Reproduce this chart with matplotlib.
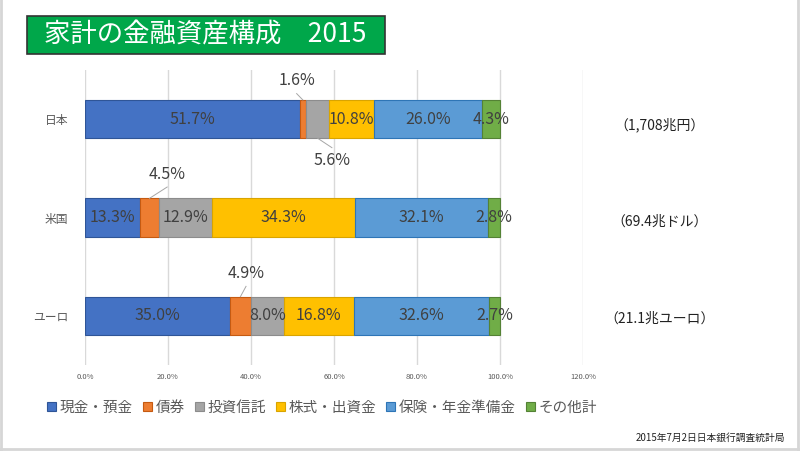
import matplotlib
matplotlib.use("Agg")
import matplotlib.pyplot as plt
from matplotlib.patches import Rectangle
from matplotlib.lines import Line2D
import numpy as np

plt.rcParams['font.family'] = ['Noto Sans CJK JP', 'DejaVu Sans']

regions = ["日本", "米国", "ユーロ"]
series = ["現金・預金", "債券", "投資信託", "株式・出資金", "保険・年金準備金", "その他計"]
values = {
    "現金・預金":     [51.7, 13.3, 35.0],
    "債券":           [1.6, 4.5, 4.9],
    "投資信託":       [5.6, 12.9, 8.0],
    "株式・出資金":   [10.8, 34.3, 16.8],
    "保険・年金準備金": [26.0, 32.1, 32.6],
    "その他計":       [4.3, 2.8, 2.7],
}
totals = ["（1,708兆円）", "（69.4兆ドル）", "（21.1兆ユーロ）"]
xticks = [0, 20, 40, 60, 80, 100, 120]
title = "家計の金融資産構成　2015"
source = "2015年7月2日日本銀行調査統計局"

colors = ["#4472C4", "#ED7D31", "#A5A5A5", "#FFC000", "#5B9BD5", "#70AD47"]
edges = ["#2F5597", "#C55A11", "#8C8C8C", "#D9A400", "#2E75B6", "#548235"]

fig = plt.figure(figsize=(8, 4.51), dpi=100)
ax = fig.add_axes([85/800, 1-365/451, 498/800, 295/451])

y = np.arange(len(regions))
left = np.zeros(len(regions))
rects = []
for s, c, e in zip(series, colors, edges):
    v = np.array(values[s])
    r = ax.barh(y, v, left=left, height=0.39, color=c, edgecolor=e, linewidth=0.8, label=s)
    rects.append((s, r, v, left.copy()))
    left = left + v

# labels of small segments placed outside with leader lines (x in %, y offset from bar centre)
outside = {
    ("債券", 0): (51.0, -0.39, "top"),
    ("投資信託", 0): (59.5, 0.42, "bottom"),
    ("債券", 1): (19.8, -0.44, "top"),
    ("債券", 2): (38.8, -0.43, "top"),
}
lab_col = "#404040"
for s, r, v, l in rects:
    for i in range(len(regions)):
        txt = f"{v[i]:.1f}%"
        key = (s, i)
        if key in outside:
            tx, dy, side = outside[key]
            ty = i + dy
            cx = l[i] + v[i] / 2
            if side == "top":
                sy = i - 0.195
                ly = ty + 0.13
            else:
                sy = i + 0.195
                ly = ty - 0.13
            ax.plot([cx, tx], [sy, ly], color="#A6A6A6", lw=0.7, zorder=3)
            ax.text(tx, ty, txt, ha="center", va="center", fontsize=11.5, color=lab_col)
        else:
            ax.text(l[i] + v[i] / 2, i, txt, ha="center", va="center", fontsize=11.5, color=lab_col)

ax.set_xlim(0, 120)
ax.set_ylim(2.5, -0.5)
ax.set_yticks(y)
ax.set_yticklabels(regions, fontsize=8.5, color="#595959")
ax.set_xticks(xticks)
ax.set_xticklabels([f"{t:.1f}%" for t in xticks], fontsize=5.5, color="#595959")
ax.tick_params(length=0, pad=6)
ax.tick_params(axis="y", pad=12)
for sp in ax.spines.values():
    sp.set_visible(False)
ax.grid(axis="x", color="#D9D9D9", lw=1)
ax.set_axisbelow(True)

for i, t in enumerate(totals):
    fig.text(660/800, 1 - (125 + i * 97) / 451, t, ha="center", va="center", fontsize=10, color="#222222")

# title box
fig.patches.append(Rectangle((27/800, 1-54/451), 358/800, 38/451, transform=fig.transFigure,
                             facecolor="#00A74A", edgecolor="#333333", lw=1.2))
fig.text(205/800, 1-35/451, title, ha="center", va="center", fontsize=19, color="white")

handles = [Rectangle((0, 0), 1, 1, facecolor=c, edgecolor=e, lw=0.8) for c, e in zip(colors, edges)]
fig.legend(handles, series, loc="center", bbox_to_anchor=(322/800, 1-408/451), ncol=6,
           frameon=False, fontsize=10.5, handlelength=0.6, handleheight=0.6,
           handletextpad=0.25, columnspacing=0.7, labelcolor="#595959")

fig.text(785/800, 1-438/451, source, ha="right", va="center", fontsize=7, color="#222222")

# slide frame
for xs, ys in [([1/800, 1/800], [0, 1]), ([798/800, 798/800], [0, 1]), ([0, 1], [1-449/451, 1-449/451])]:
    fig.add_artist(Line2D(xs, ys, transform=fig.transFigure, color="#D6D6D6", lw=2))

fig.savefig("out.png", dpi=100, facecolor="white")
